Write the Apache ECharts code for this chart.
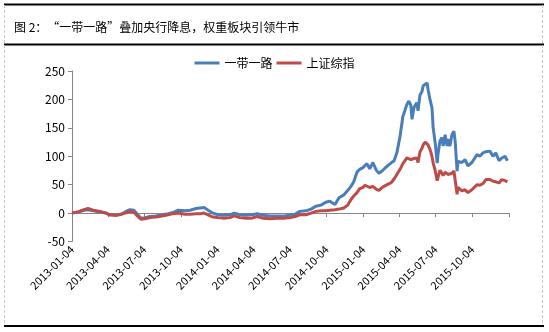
<!DOCTYPE html>
<html>
<head>
<meta charset="utf-8">
<script src="https://cdn.jsdelivr.net/npm/echarts@6/dist/echarts.min.js"></script>
<style>
  html, body { margin: 0; padding: 0; background: #fff; }
  #chart { width: 549px; height: 332px; }
</style>
</head>
<body>
<div id="chart"></div>
<script>
const titleText = '图 2：“一带一路”叠加央行降息，权重板块引领牛市';
const seriesNames = ['一带一路', '上证综指'];

const dates = [
  '2013-01-04','2013-01-19','2013-02-03','2013-02-13','2013-02-26','2013-03-15','2013-03-30','2013-04-09',
  '2013-04-24','2013-05-07','2013-05-17','2013-05-29','2013-06-08','2013-06-18','2013-06-26','2013-07-06',
  '2013-07-18','2013-08-02','2013-08-18','2013-09-02','2013-09-14','2013-09-27','2013-10-14','2013-10-27',
  '2013-11-11','2013-11-21','2013-12-01','2013-12-11','2013-12-23','2014-01-05','2014-01-20','2014-02-04',
  '2014-02-14','2014-03-01','2014-03-16','2014-03-31','2014-04-13','2014-04-28','2014-05-15','2014-06-02',
  '2014-06-19','2014-07-04','2014-07-17','2014-07-29','2014-08-13','2014-08-26','2014-09-07','2014-09-20',
  '2014-10-02','2014-10-12','2014-10-25','2014-11-04','2014-11-16','2014-11-26','2014-12-04','2014-12-11',
  '2014-12-19','2014-12-26','2015-01-03','2015-01-08','2015-01-13','2015-01-20','2015-01-28','2015-02-05',
  '2015-02-12','2015-02-20','2015-02-27','2015-03-07','2015-03-14','2015-03-22','2015-03-29','2015-04-06',
  '2015-04-13','2015-04-18','2015-04-23','2015-04-28','2015-05-03','2015-05-06','2015-05-11','2015-05-18',
  '2015-05-21','2015-05-26','2015-05-31','2015-06-03','2015-06-08','2015-06-13','2015-06-15','2015-06-20',
  '2015-06-25','2015-06-28','2015-07-03','2015-07-08','2015-07-10','2015-07-15','2015-07-20','2015-07-23',
  '2015-07-28','2015-08-02','2015-08-04','2015-08-09','2015-08-14','2015-08-19','2015-08-22','2015-08-27',
  '2015-08-29','2015-09-08','2015-09-16','2015-09-23','2015-10-03','2015-10-16','2015-10-23','2015-10-31',
  '2015-11-07','2015-11-17','2015-11-25','2015-12-02','2015-12-10','2015-12-17','2015-12-25','2015-12-31'
];

const beltRoad = [
  0,2,5,6,4,2,0,-3,
  -4,-2,2,6,5,-3,-9,-8,
  -6,-5,-3,-1,1,5,4,5,
  8,9,10,5,0,-3,-4,-3,
  0,-3,-4,-3,-1,-4,-5,-5,
  -5,-4,-2,3,4,7,12,14,
  19,21,15,27,32,40,47,55,
  72,77,80,83,87,78,89,76,
  70,74,79,84,88,92,106,135,
  170,180,191,197,190,165,186,194,
  180,208,214,224,221,229,218,200,
  185,150,124,88,103,127,133,118,
  138,118,130,118,138,144,127,74,
  91,89,94,83,89,103,100,106,
  108,109,100,106,92,97,100,92
];

const shIndex = [
  0,2,6,8,5,3,0,-3,
  -4,-2,0,3,2,-6,-11,-10,
  -8,-7,-5,-3,-1,0,-2,-2,
  -1,-1,0,-3,-7,-8,-9,-8,
  -5,-8,-9,-9,-6,-9,-10,-9,
  -9,-8,-6,-3,-3,0,3,4,
  4,5,6,7,9,14,24,30,
  36,43,45,49,46,45,47,42,
  40,45,48,51,53,60,68,77,
  87,92,97,98,94,91,96,97,
  89,108,114,120,125,128,120,112,
  100,88,75,57,60,75,70,66,
  72,70,68,65,70,74,77,33,
  45,39,41,36,41,50,49,52,
  59,59,56,55,53,59,57,55
];

const tickDates = [
  '2013-01-04','2013-04-04','2013-07-04','2013-10-04','2014-01-04','2014-04-04','2014-07-04',
  '2014-10-04','2015-01-04','2015-04-04','2015-07-04','2015-10-04','2016-01-04'
];
const labelDates = [
  '2013-01-04','2013-04-04','2013-07-04','2013-10-04','2014-01-04','2014-04-04','2014-07-04',
  '2014-10-04','2015-01-04','2015-04-04','2015-07-04','2015-10-04'
];

function ts(s) {
  const p = s.split('-').map(Number);
  return Date.UTC(p[0], p[1] - 1, p[2]);
}
function fmt(v) {
  const d = new Date(v);
  const pad = n => (n < 10 ? '0' : '') + n;
  return d.getUTCFullYear() + '-' + pad(d.getUTCMonth() + 1) + '-' + pad(d.getUTCDate());
}

const xMin = ts(tickDates[0]);
const xMax = ts(tickDates[tickDates.length - 1]);
const FONT = '"Noto Sans CJK SC", "Microsoft YaHei", sans-serif';
const axisGray = '#868686';

const chart = echarts.init(document.getElementById('chart'), null, { renderer: 'canvas' });
chart.setOption({
  animation: false,
  backgroundColor: '#fff',
  textStyle: { fontFamily: FONT },
  title: {
    text: titleText,
    left: 9,
    top: 16,
    textStyle: { fontSize: 12, fontWeight: 'normal', color: '#000', fontFamily: FONT }
  },
  legend: {
    top: 52,
    left: 'center',
    itemWidth: 25,
    itemHeight: 3,
    itemGap: 4,
    icon: 'rect',
    textStyle: { fontSize: 12, color: '#000', fontFamily: FONT },
    data: seriesNames
  },
  grid: {
    left: 72, right: 40, top: 71, bottom: 90.5,
    containLabel: false,
    outerBoundsMode: 'none'
  },
  xAxis: [
    {
      type: 'value',
      min: xMin, max: xMax,
      axisLine: { show: true, onZero: true, lineStyle: { color: axisGray, width: 1 } },
      axisTick: { show: true, inside: false, length: 4, lineStyle: { color: axisGray }, customValues: tickDates.map(ts) },
      axisLabel: { show: false },
      splitLine: { show: false }
    },
    {
      type: 'value',
      position: 'bottom',
      min: xMin, max: xMax,
      axisLine: { show: false, onZero: false },
      axisTick: { show: false },
      splitLine: { show: false },
      axisLabel: {
        show: true,
        rotate: 45,
        margin: 6,
        fontSize: 11,
        color: '#000',
        fontFamily: FONT,
        customValues: labelDates.map(ts),
        formatter: function (v) { return fmt(v); }
      }
    }
  ],
  yAxis: {
    type: 'value',
    min: -50, max: 250, interval: 50,
    axisLine: { show: true, lineStyle: { color: axisGray, width: 1 } },
    axisTick: { show: true, inside: false, length: 4, lineStyle: { color: axisGray } },
    axisLabel: { fontSize: 12, color: '#000', margin: 7, fontFamily: FONT },
    splitLine: { show: false }
  },
  series: [
    {
      name: seriesNames[0],
      type: 'line',
      xAxisIndex: 0,
      showSymbol: false,
      symbol: 'none',
      lineStyle: { color: '#4A7EBB', width: 3 },
      itemStyle: { color: '#4A7EBB' },
      data: dates.map((d, i) => [ts(d), beltRoad[i]])
    },
    {
      name: seriesNames[1],
      type: 'line',
      xAxisIndex: 0,
      showSymbol: false,
      symbol: 'none',
      lineStyle: { color: '#BE4B48', width: 3 },
      itemStyle: { color: '#BE4B48' },
      data: dates.map((d, i) => [ts(d), shIndex[i]])
    }
  ],
  graphic: [
    { type: 'line', shape: { x1: 4, y1: 4.5, x2: 544, y2: 4.5 }, style: { stroke: '#000', lineWidth: 2 } },
    { type: 'line', shape: { x1: 4, y1: 44.5, x2: 544, y2: 44.5 }, style: { stroke: '#000', lineWidth: 2 } },
    { type: 'line', shape: { x1: 4, y1: 326, x2: 544, y2: 326 }, style: { stroke: '#000', lineWidth: 2 } },
    { type: 'line', shape: { x1: 4.5, y1: 5, x2: 4.5, y2: 325 }, style: { stroke: '#c8c8c8', lineWidth: 1, lineDash: [3, 2] } },
    { type: 'line', shape: { x1: 542.5, y1: 5, x2: 542.5, y2: 325 }, style: { stroke: '#c8c8c8', lineWidth: 1, lineDash: [3, 2] } }
  ]
});
</script>
</body>
</html>
